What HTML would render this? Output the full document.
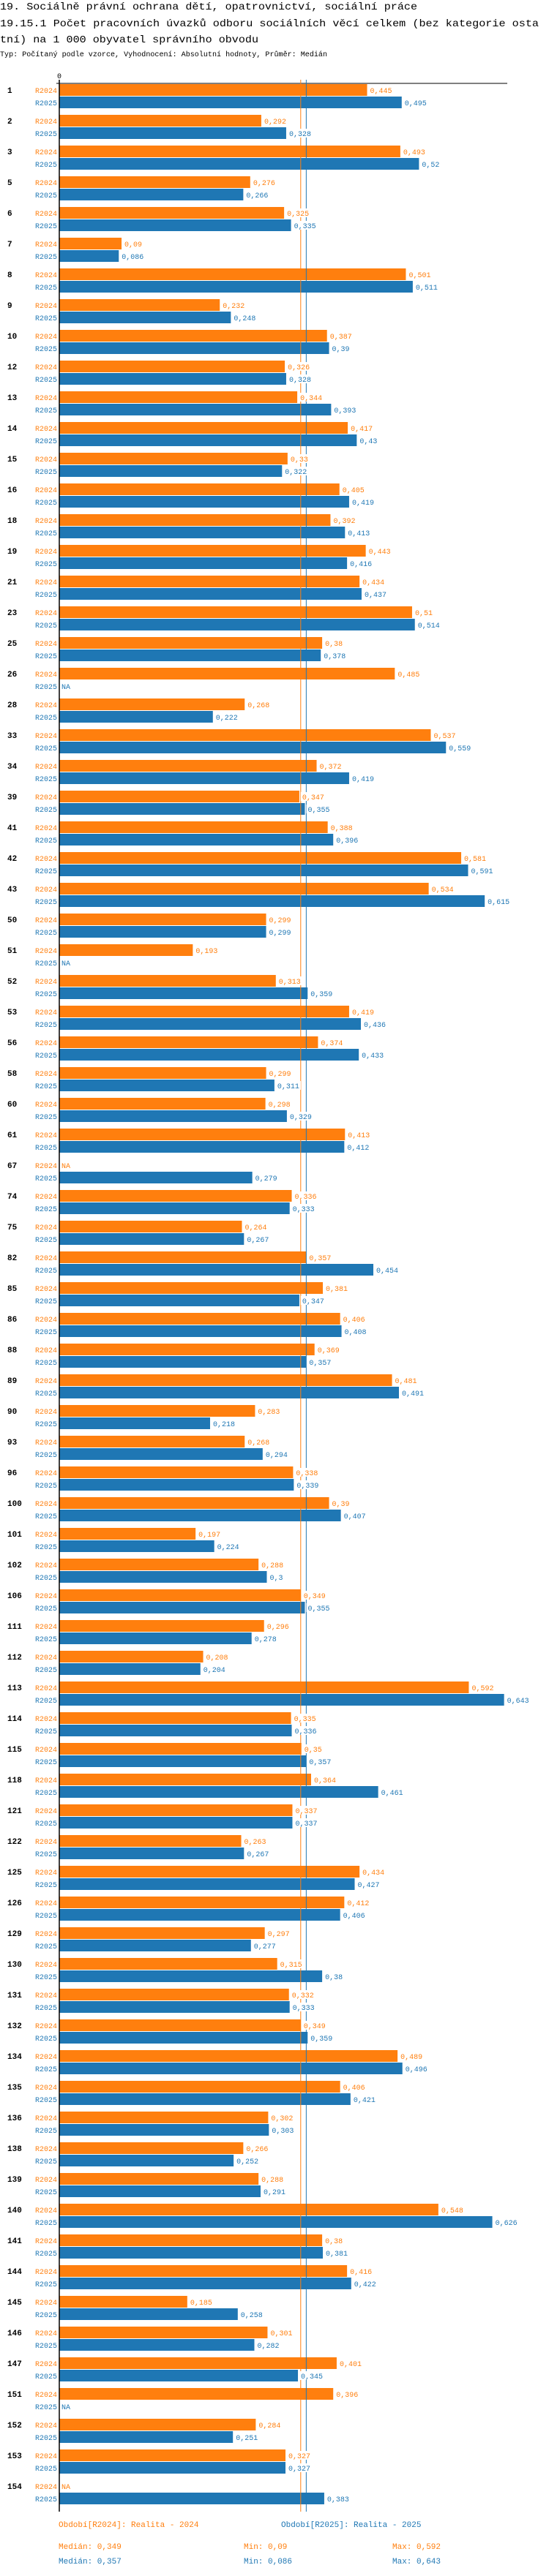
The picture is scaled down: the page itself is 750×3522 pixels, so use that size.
<!DOCTYPE html>
<html><head><meta charset="utf-8">
<style>
html,body{margin:0;padding:0;background:#fff;}
svg{display:block;}
text{font-family:"Liberation Mono","DejaVu Sans Mono",monospace;}
</style></head>
<body>
<svg id="chart" width="750" height="3522" viewBox="0 0 750 3522" xmlns="http://www.w3.org/2000/svg">
<text x="0" y="13" font-size="14" fill="#000" textLength="570" lengthAdjust="spacingAndGlyphs">19. Sociálně právní ochrana dětí, opatrovnictví, sociální práce</text>
<text x="0" y="36" font-size="14" fill="#000" textLength="736" lengthAdjust="spacingAndGlyphs">19.15.1 Počet pracovních úvazků odboru sociálních věcí celkem (bez kategorie osta</text>
<text x="0" y="58" font-size="14" fill="#000" textLength="353" lengthAdjust="spacingAndGlyphs">tní) na 1 000 obyvatel správního obvodu</text>
<text x="0" y="77" font-size="10" fill="#000" textLength="447" lengthAdjust="spacingAndGlyphs">Typ: Počítaný podle vzorce, Vyhodnocení: Absolutní hodnoty, Průměr: Medián</text>
<g id="plot"></g>
</svg>
<script>
const categories = ["1","2","3","5","6","7","8","9","10","12","13","14","15","16","18","19","21","23","25","26","28","33","34","39","41","42","43","50","51","52","53","56","58","60","61","67","74","75","82","85","86","88","89","90","93","96","100","101","102","106","111","112","113","114","115","118","121","122","125","126","129","130","131","132","134","135","136","138","139","140","141","144","145","146","147","151","152","153","154"];
const values2024 = [0.445,0.292,0.493,0.276,0.325,0.09,0.501,0.232,0.387,0.326,0.344,0.417,0.33,0.405,0.392,0.443,0.434,0.51,0.38,0.485,0.268,0.537,0.372,0.347,0.388,0.581,0.534,0.299,0.193,0.313,0.419,0.374,0.299,0.298,0.413,null,0.336,0.264,0.357,0.381,0.406,0.369,0.481,0.283,0.268,0.338,0.39,0.197,0.288,0.349,0.296,0.208,0.592,0.335,0.35,0.364,0.337,0.263,0.434,0.412,0.297,0.315,0.332,0.349,0.489,0.406,0.302,0.266,0.288,0.548,0.38,0.416,0.185,0.301,0.401,0.396,0.284,0.327,null];
const values2025 = [0.495,0.328,0.52,0.266,0.335,0.086,0.511,0.248,0.39,0.328,0.393,0.43,0.322,0.419,0.413,0.416,0.437,0.514,0.378,null,0.222,0.559,0.419,0.355,0.396,0.591,0.615,0.299,null,0.359,0.436,0.433,0.311,0.329,0.412,0.279,0.333,0.267,0.454,0.347,0.408,0.357,0.491,0.218,0.294,0.339,0.407,0.224,0.3,0.355,0.278,0.204,0.643,0.336,0.357,0.461,0.337,0.267,0.427,0.406,0.277,0.38,0.333,0.359,0.496,0.421,0.303,0.252,0.291,0.626,0.381,0.422,0.258,0.282,0.345,null,0.251,0.327,0.383];
const medians = [0.349, 0.357];
const mins = ["0,09", "0,086"];
const maxs = ["0,592", "0,643"];
const seriesNames = ["R2024","R2025"];

const NS = "http://www.w3.org/2000/svg";
const plot = document.getElementById("plot");
const X0 = 81, SCALE = 945, TOP = 115, STEP = 42;
const colors = ["#ff7f0e","#1f77b4"];
const xScale = v => X0 + v * SCALE;
const yScale = (g, s) => TOP + g * STEP + (s === 0 ? 0 : 17);
const fmt = v => String(v).replace(".", ",");
function mk(tag, attrs, parent){
  const e = document.createElementNS(NS, tag);
  for (const k in attrs) e.setAttribute(k, attrs[k]);
  (parent || plot).appendChild(e);
  return e;
}
const bottom = yScale(categories.length - 1, 1) + 26;

// axis top line and zero label
const axTop = mk("line", {x1:77, y1:114, x2:693, y2:114, stroke:"#000", "stroke-width":1});


const zl = mk("text", {x:X0, y:107, "font-size":10, "text-anchor":"middle", fill:"#000"});
zl.textContent = "0";



const barsG = mk("g", {});
const labelsG = mk("g", {});

categories.forEach((cat, g) => {
  const gl = mk("text", {x:10, y:yScale(g,0)+12, "font-size":11, "font-weight":"bold", fill:"#000"}, labelsG);
  gl.textContent = cat;
  
  
  [values2024, values2025].forEach((arr, s) => {
    const y = yScale(g, s);
    const v = arr[g];
    const sl = mk("text", {x:78, y:y+12, "font-size":10, "text-anchor":"end", fill:colors[s]}, labelsG);
    sl.textContent = seriesNames[s];
    
    
    if (v === null) {
      const na = mk("text", {x:84, y:y+12, "font-size":10, fill:colors[s]}, labelsG);
      na.textContent = "NA";
      
      
      return;
    }
    const r = mk("rect", {x:X0, y:y, width:xScale(v)-X0, height:16, fill:colors[s]}, barsG);
    
    
    const txt = fmt(v);
    const bg = mk("rect", {x:xScale(v)+2, y:y+2, width:txt.length*6+4, height:12, fill:"#fff"}, labelsG);
    
    
    const vl = mk("text", {x:xScale(v)+4, y:y+12, "font-size":10, fill:colors[s]}, labelsG);
    vl.textContent = txt;
    
    
  });
});

// median lines (drawn below labels, above bars)
medians.forEach((m, s) => {
  const ml = mk("line", {x1:xScale(m), y1:109, x2:xScale(m), y2:bottom, stroke:colors[s], "stroke-width":1});
  
  
  plot.insertBefore(ml, labelsG);
});

// vertical axis
const axV = mk("line", {x1:X0, y1:109, x2:X0, y2:bottom, stroke:"#000", "stroke-width":1.5});



// legend
const legendY = bottom + 21;
const legendX = [80, 384];
seriesNames.forEach((n, s) => {
  const lt = mk("text", {x:legendX[s], y:legendY, "font-size":11, fill:colors[s]});
  lt.textContent = "Období[" + n + "]: Realita - " + n.slice(1);
  
  
  const sy = legendY + 30 + s * 20;
  const mt = mk("text", {x:80, y:sy, "font-size":11, fill:colors[s]});
  mt.textContent = "Medián: " + fmt(medians[s]);
  
  
  const mnt = mk("text", {x:333, y:sy, "font-size":11, fill:colors[s]});
  mnt.textContent = "Min: " + mins[s];
  
  
  const mxt = mk("text", {x:536, y:sy, "font-size":11, fill:colors[s]});
  mxt.textContent = "Max: " + maxs[s];
  
  
});
</script>
</body></html>
